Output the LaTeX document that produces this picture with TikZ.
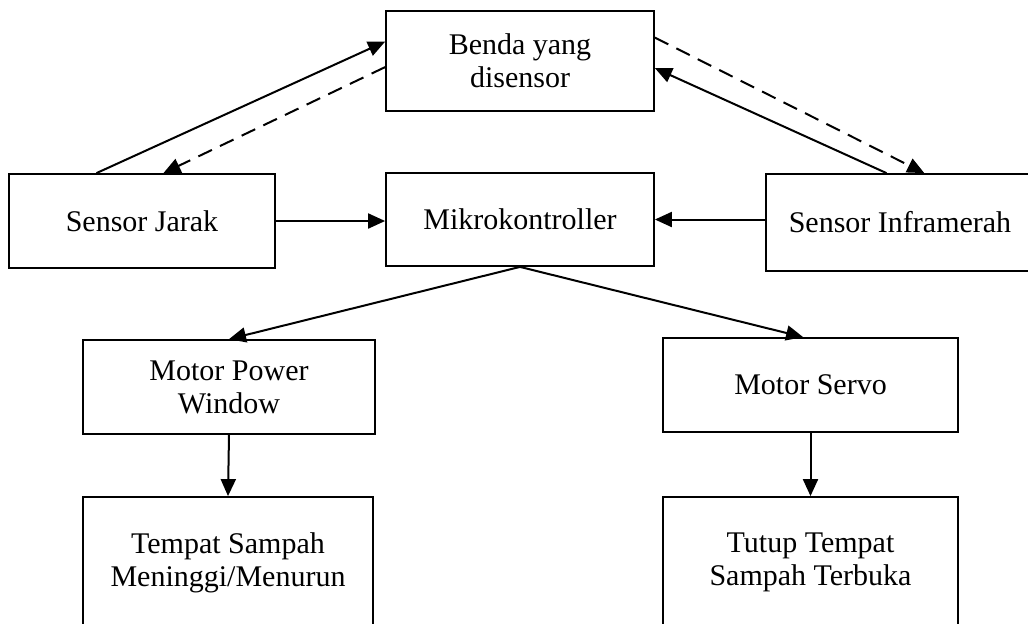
\documentclass[tikz,border=0pt]{standalone}
\usepackage{fontspec}
\setmainfont{Liberation Serif}
\usepackage{tikz}
\usetikzlibrary{arrows.meta}
\usetikzlibrary{calc}
\tikzset{blk/.style = {draw, line width = 0.9pt, rectangle, inner sep = 0, align = center,
                       font = \fontsize{15}{16.5}\selectfont}}
\tikzset{arr/.style = {line width = 1pt, -{Triangle[length = 8.5pt, width = 7.5pt]}}}
\tikzset{darr/.style = {arr, dash pattern = on 7.5pt off 4.5pt}}

\begin{document}
\begin{tikzpicture}[x = 0.5pt, y = -0.5pt]
      \useasboundingbox (0, 0) rectangle (1028, 623);
      \clip (0, 0) rectangle (1028, 623);

      \node [blk, minimum width = 134pt, minimum height = 50pt] (benda) at (520, 61) {Benda yang\\disensor};
      \node [blk, minimum width = 133pt, minimum height = 47pt] (jarak) at (142, 221) {Sensor Jarak};
      \node [blk, minimum width = 134pt, minimum height = 46.5pt] (mikro) at (520, 219.5) {Mikrokontroller};
      \node [blk, minimum width = 134pt, minimum height = 48.5pt] (infra) at (900, 222.5) {Sensor Inframerah};
      \node [blk, minimum width = 146pt, minimum height = 47pt] (motorpw) at (229, 387) {Motor Power\\Window};
      \node [blk, minimum width = 147.5pt, minimum height = 47pt] (servo) at (810.5, 385) {Motor Servo};
      \node [blk, minimum width = 145pt, minimum height = 65.5pt] (sampah) at (228, 562.5) {Tempat Sampah\\Meninggi/Menurun};
      \node [blk, minimum width = 147.5pt, minimum height = 65.5pt] (tutup) at (810.5, 562.5) {Tutup Tempat\\Sampah Terbuka};

      \draw [arr] ($(jarak.north west)!0.33!(jarak.north east)$)
                  -- ($(benda.north west)!0.31!(benda.south west)$);
      \draw [darr] ($(benda.north west)!0.56!(benda.south west)$)
                   -- ($(jarak.north west)!0.58!(jarak.north east)$);
      \draw [arr] ($(infra.north west)!0.45!(infra.north east)$)
                  -- ($(benda.north east)!0.57!(benda.south east)$);
      \draw [darr] ($(benda.north east)!0.27!(benda.south east)$)
                   -- ($(infra.north west)!0.59!(infra.north east)$);

      \draw [arr] (jarak.east) -- (jarak.east -| mikro.west);
      \draw [arr] (infra.west |- mikro.east) -- (mikro.east);

      \draw [arr] (mikro.south) -- (motorpw.north);
      \draw [arr] (mikro.south) -- ($(servo.north west)!0.475!(servo.north east)$);
      \draw [arr] (motorpw.south) -- (sampah.north);
      \draw [arr] (servo.south) -- (tutup.north);
    \end{tikzpicture}
\end{document}
